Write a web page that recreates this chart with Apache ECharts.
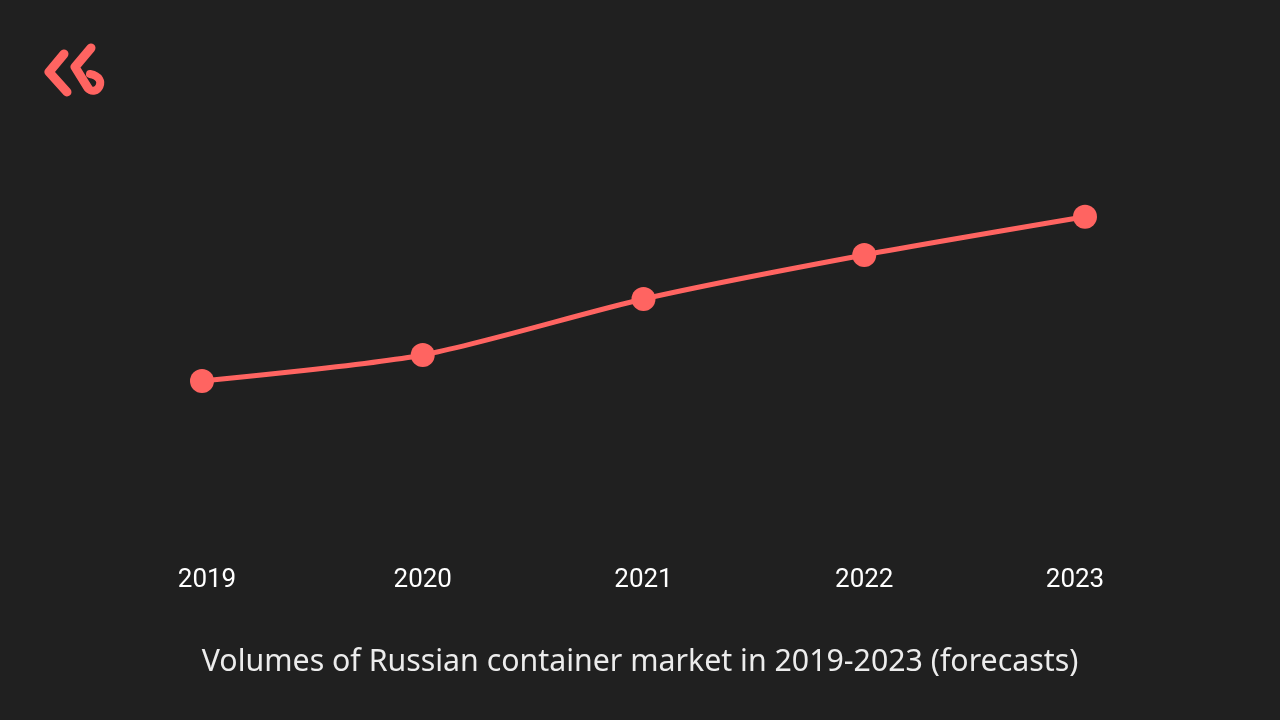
<!DOCTYPE html>
<html>
<head>
<meta charset="utf-8">
<style>html,body{margin:0;padding:0;background:#202020;}#c{width:1280px;height:720px;}</style>
<script src="https://cdn.jsdelivr.net/npm/echarts@6/dist/echarts.min.js"></script>
</head>
<body>
<div id="c"></div>
<script>
const years = ['2019', '2020', '2021', '2022', '2023'];
const volumes = [33.75, 40.25, 54.25, 65.25, 74.8];
const titleText = 'Volumes of Russian container market in 2019-2023 (forecasts)';

const chart = echarts.init(document.getElementById('c'));
const red = '#FF6461';
chart.setOption({
  backgroundColor: '#202020',
  animation: false,
  title: {
    text: titleText,
    left: 'center',
    top: 642,
    textStyle: { color: '#ececec', fontFamily: 'Noto Sans', fontWeight: 'normal', fontSize: 30.3 }
  },
  grid: { left: 202, right: 195, top: 116, bottom: 204 },
  xAxis: {
    type: 'category',
    data: years,
    boundaryGap: false,
    axisLine: { show: false },
    axisTick: { show: false },
    splitLine: { show: false },
    axisLabel: {
      margin: 51,
      formatter: function (v, i) {
        if (i === 0) return '{f|' + v + '}';
        if (i === years.length - 1) return '{l|' + v + '}';
        return '{m|' + v + '}';
      },
      rich: {
        f: { color: '#ffffff', fontFamily: 'Roboto', fontSize: 26, padding: [0, 0, 0, 10] },
        m: { color: '#ffffff', fontFamily: 'Roboto', fontSize: 26 },
        l: { color: '#ffffff', fontFamily: 'Roboto', fontSize: 26, padding: [0, 20, 0, 0] }
      }
    }
  },
  yAxis: { type: 'value', min: 0, max: 100, show: false },
  series: [{
    type: 'line',
    data: volumes,
    smooth: 0.25,
    symbol: 'circle',
    symbolSize: 24,
    itemStyle: { color: red },
    lineStyle: { color: red, width: 5 }
  }],
  graphic: [
    { type: 'polyline', shape: { points: [[64, 54], [49, 72], [67, 92]] },
      style: { stroke: red, lineWidth: 9, fill: null, lineCap: 'round', lineJoin: 'round' } },
    { type: 'polyline', shape: { points: [[91, 48], [75, 67], [88, 88]] },
      style: { stroke: red, lineWidth: 9, fill: null, lineCap: 'round', lineJoin: 'round' } },
    { type: 'bezierCurve', shape: { x1: 88, y1: 88, cpx1: 96, cpy1: 98, cpx2: 110, cpy2: 78, x2: 90, y2: 74 },
      style: { stroke: red, lineWidth: 8, fill: null, lineCap: 'round' } }
  ]
});
</script>
</body>
</html>
